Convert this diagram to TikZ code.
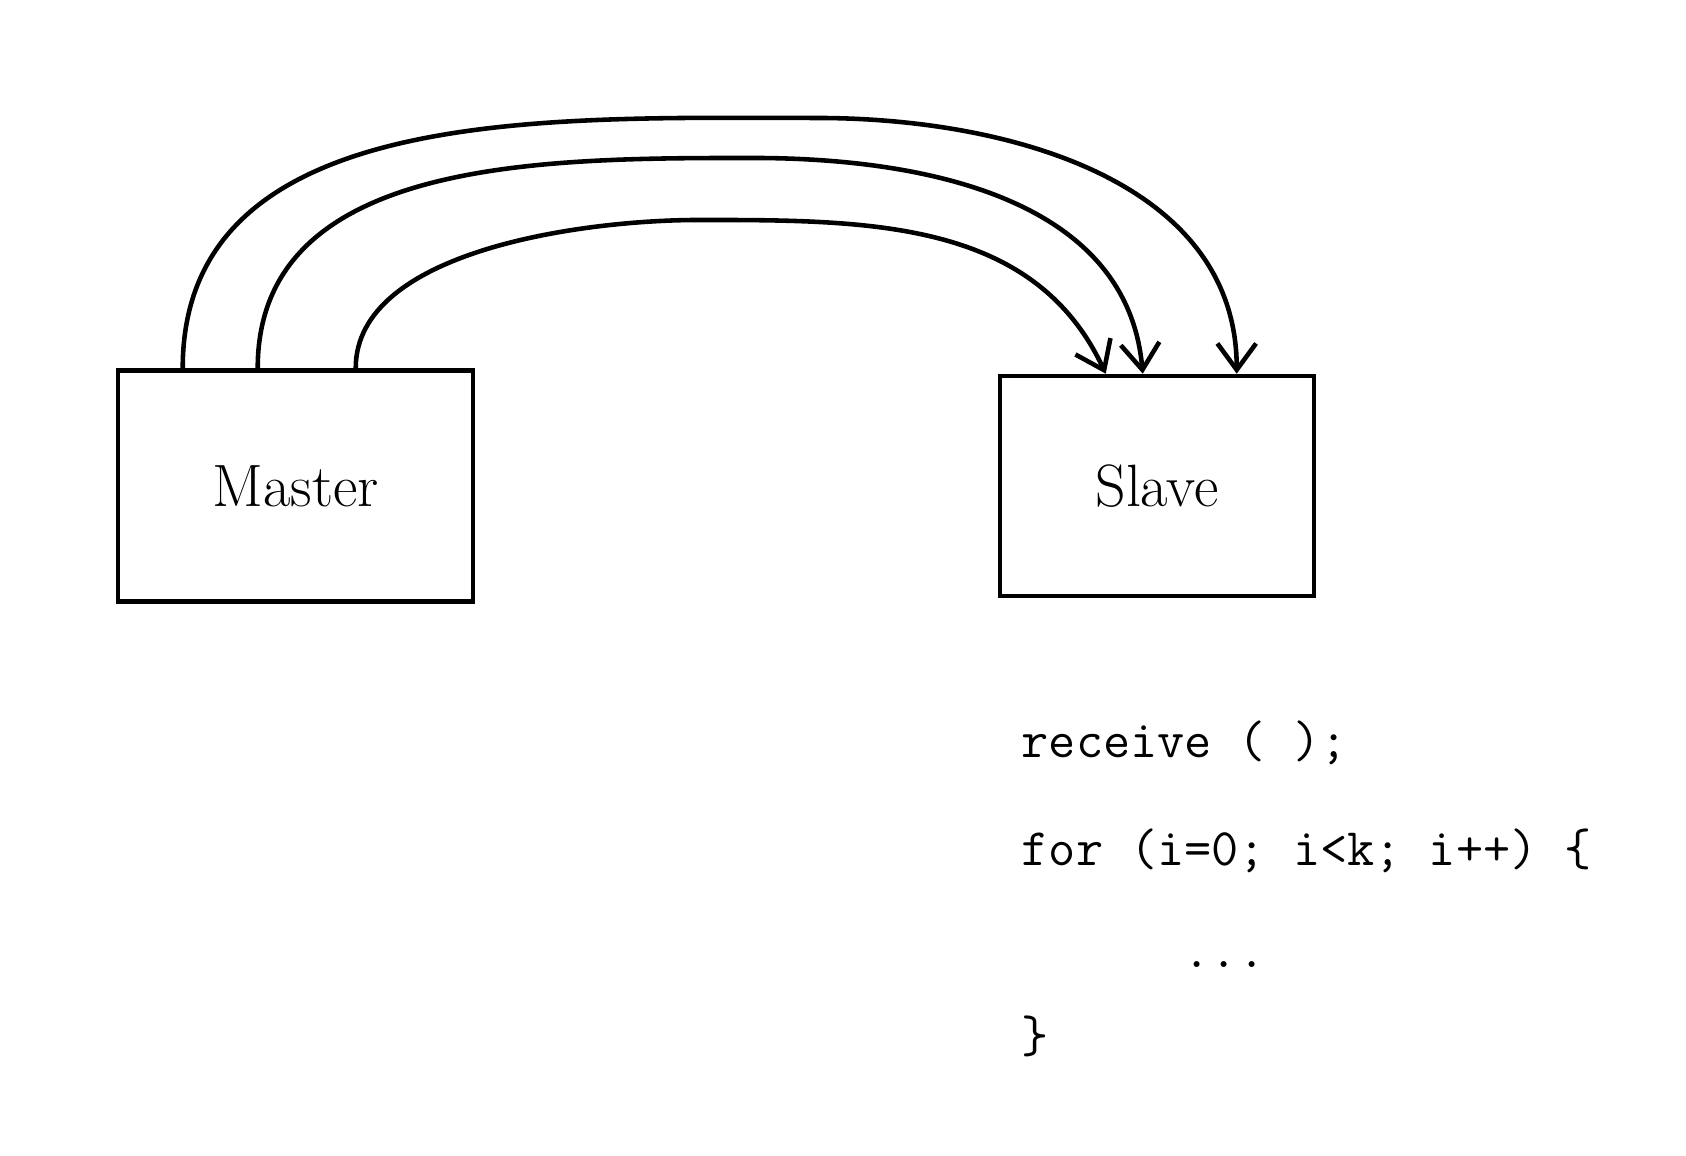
\documentclass[tikz,border=0pt]{standalone}
\usepackage{amsmath}
\usepackage{tikz}
\usetikzlibrary{arrows.meta}

\tikzset{
  box/.style={draw, line width=1.3pt, inner sep=0pt,
              font=\fontsize{17}{20}\selectfont},
  link/.style={line width=1.3pt, -{Straight Barb[length=7.5pt,width=11pt]}},
  code/.style={anchor=base west, inner sep=0pt,
               font=\ttfamily\fontsize{15}{18}\selectfont}
}

\begin{document}
\begin{tikzpicture}
\useasboundingbox (0,0) rectangle (16.86,11.56);

\node[box, minimum width=3.55cm, minimum height=2.31cm] (master) at (2.955,6.70) {Master};
\node[box, minimum width=3.14cm, minimum height=2.20cm] (slave) at (11.57,6.70) {Slave};

% tops of the three messages
\coordinate (top1) at (8.17,10.38);
\coordinate (top2) at (7.53,9.98);
\coordinate (top3) at (6.99,9.36);

\draw[link] ([xshift=0.67cm]master.north west) to[out=90,in=180] (top1)
            to[out=0,in=90] ([xshift=2.39cm]slave.north west);
\draw[link] ([xshift=1.42cm]master.north west) to[out=90,in=180] (top2)
            to[out=0,in=95] ([xshift=1.45cm]slave.north west);
\draw[link] ([xshift=2.40cm]master.north west) to[out=90,in=180,looseness=0.8] (top3)
            to[out=0,in=115] ([xshift=1.08cm]slave.north west);

% code run by the slave
\node[code] (recv)  at (10.21,3.98) {receive ( );};
\node[code] (loop)  at (10.21,2.90) {for (i=0; i<k; i++) \{};
\node[code] (body)  at (11.83,1.88) {...};
\node[code] (close) at (10.21,1.03) {\}};
\end{tikzpicture}
\end{document}
